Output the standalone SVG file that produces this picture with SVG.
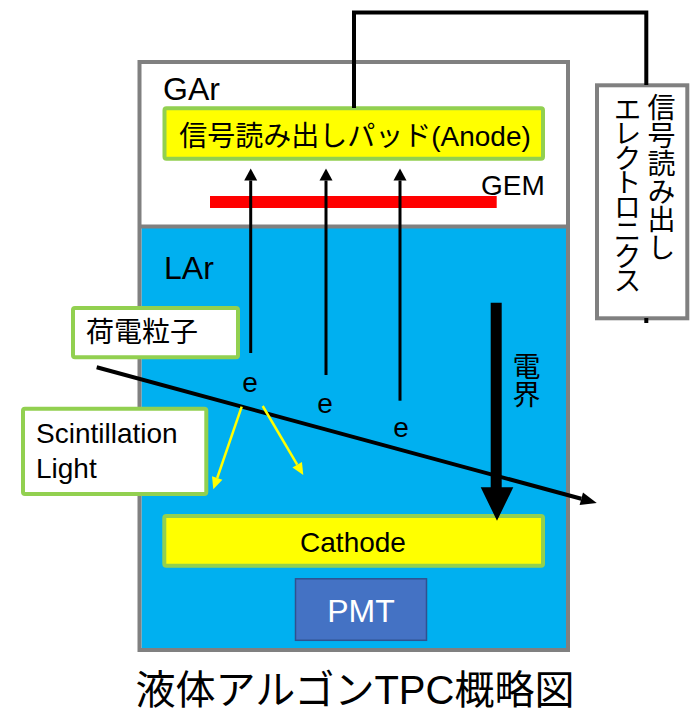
<svg xmlns="http://www.w3.org/2000/svg" width="695" height="713" viewBox="0 0 695 713">
<style>
text{font-family:"Liberation Sans","Noto Sans CJK JP",sans-serif;fill:#000}
.frame{fill:none;stroke:#808080;stroke-width:4}
.pad{fill:#FFFF00;stroke:#92D050;stroke-width:4}
.label{fill:#FFFFFF;stroke:#92D050;stroke-width:4}
.vert{writing-mode:vertical-rl;font-size:28px}
.blk{stroke:#000;fill:none}
</style>
<defs>
<marker id="ahBlack" markerUnits="userSpaceOnUse" viewBox="0 -8 18 16" markerWidth="18" markerHeight="16" refX="0" refY="0" orient="auto" overflow="visible">
<path d="M0,-6.5 L12,0 L0,6.5 z" fill="#000"/>
</marker>
<marker id="ahTrack" markerUnits="userSpaceOnUse" viewBox="0 -8 18 16" markerWidth="18" markerHeight="16" refX="0" refY="0" orient="auto" overflow="visible">
<path d="M0,-6.5 L16,0 L0,6.5 z" fill="#000"/>
</marker>
<marker id="ahYellow" markerUnits="userSpaceOnUse" viewBox="0 -8 18 16" markerWidth="18" markerHeight="16" refX="0" refY="0" orient="auto" overflow="visible">
<path d="M0,-5.5 L12,0 L0,5.5 z" fill="#FFFF00"/>
</marker>
</defs>

<g id="tpc-vessel">
<rect x="139.5" y="62" width="428.5" height="588" fill="#FFFFFF"/>
<rect x="141.5" y="226.5" width="424.5" height="421.5" fill="#00B0F0"/>
<line x1="139.5" y1="226.5" x2="568" y2="226.5" stroke="#808080" stroke-width="4"/>
<rect class="frame" x="139.5" y="62" width="428.5" height="588"/>
<text x="163" y="99.5" font-size="32">GAr</text>
<text x="164" y="279.3" font-size="32">LAr</text>
</g>

<g id="anode">
<rect class="pad" x="164.5" y="108.3" width="378.5" height="50.5" rx="2"/>
<text x="355" y="146" font-size="28" text-anchor="middle">信号読み出しパッド(Anode)</text>
</g>

<g id="gem">
<rect x="210" y="196" width="286.7" height="12" fill="#FF0000"/>
<text x="481" y="195" font-size="28">GEM</text>
</g>

<g id="cathode">
<rect class="pad" x="164.3" y="516" width="378.7" height="49.7" rx="2"/>
<text x="353" y="551.7" font-size="28" text-anchor="middle">Cathode</text>
</g>

<g id="pmt">
<rect x="295.5" y="578.8" width="131" height="61.5" fill="#4472C4" stroke="#2F528F" stroke-width="1.5"/>
<text x="361" y="621.7" font-size="32" text-anchor="middle" style="fill:#FFFFFF">PMT</text>
</g>

<g id="charged-particle">
<rect class="label" x="73" y="308" width="165" height="49.3" rx="2"/>
<text x="86" y="342" font-size="28">荷電粒子</text>
</g>

<g id="scintillation-light">
<rect class="label" x="23" y="408.7" width="183.3" height="85.3" rx="2"/>
<text x="36" y="442.7" font-size="28">Scintillation</text>
<text x="36" y="478" font-size="28">Light</text>
</g>

<g id="electronics">
<rect x="597" y="85.3" width="90.3" height="233" fill="#FFFFFF" stroke="#808080" stroke-width="4"/>
<text class="vert" x="659" y="93">信号読み出し</text>
<text class="vert" x="625" y="95" style="letter-spacing:-3.5px">エレクトロニクス</text>
</g>

<g id="electrons">
<text x="250" y="392" font-size="28" text-anchor="middle">e</text>
<text x="325" y="413" font-size="28" text-anchor="middle">e</text>
<text x="401" y="437" font-size="28" text-anchor="middle">e</text>
</g>

<g id="efield">
<path d="M490.7,302.7 L501.7,302.7 L501.7,487.3 L513.3,487.3 L497,520.7 L480.7,487.3 L490.7,487.3 z" fill="#000"/>
<text class="vert" x="524" y="352">電界</text>
</g>

<g id="connectors">
<polyline class="blk" points="354,108 354,12.5 646.3,12.5 646.3,85" stroke-width="4" stroke-linejoin="miter"/>
<line class="blk" x1="646.3" y1="318" x2="646.3" y2="323" stroke-width="4"/>
<line class="blk" x1="250.7" y1="353" x2="250.7" y2="180.5" stroke-width="3" marker-end="url(#ahBlack)"/>
<line class="blk" x1="326" y1="375" x2="326" y2="180.5" stroke-width="3" marker-end="url(#ahBlack)"/>
<line class="blk" x1="400" y1="400.7" x2="400" y2="180.5" stroke-width="3" marker-end="url(#ahBlack)"/>
<line class="blk" x1="96.7" y1="367.3" x2="581.3" y2="498.8" stroke-width="4" marker-end="url(#ahTrack)"/>
<line x1="241.7" y1="406.7" x2="217.2" y2="478" stroke="#FFFF00" stroke-width="2.5" marker-end="url(#ahYellow)"/>
<line x1="262.7" y1="406" x2="297.2" y2="464.7" stroke="#FFFF00" stroke-width="2.5" marker-end="url(#ahYellow)"/>
</g>

<g id="title">
<text x="355" y="704" font-size="40" text-anchor="middle">液体アルゴンTPC概略図</text>
</g>
</svg>
